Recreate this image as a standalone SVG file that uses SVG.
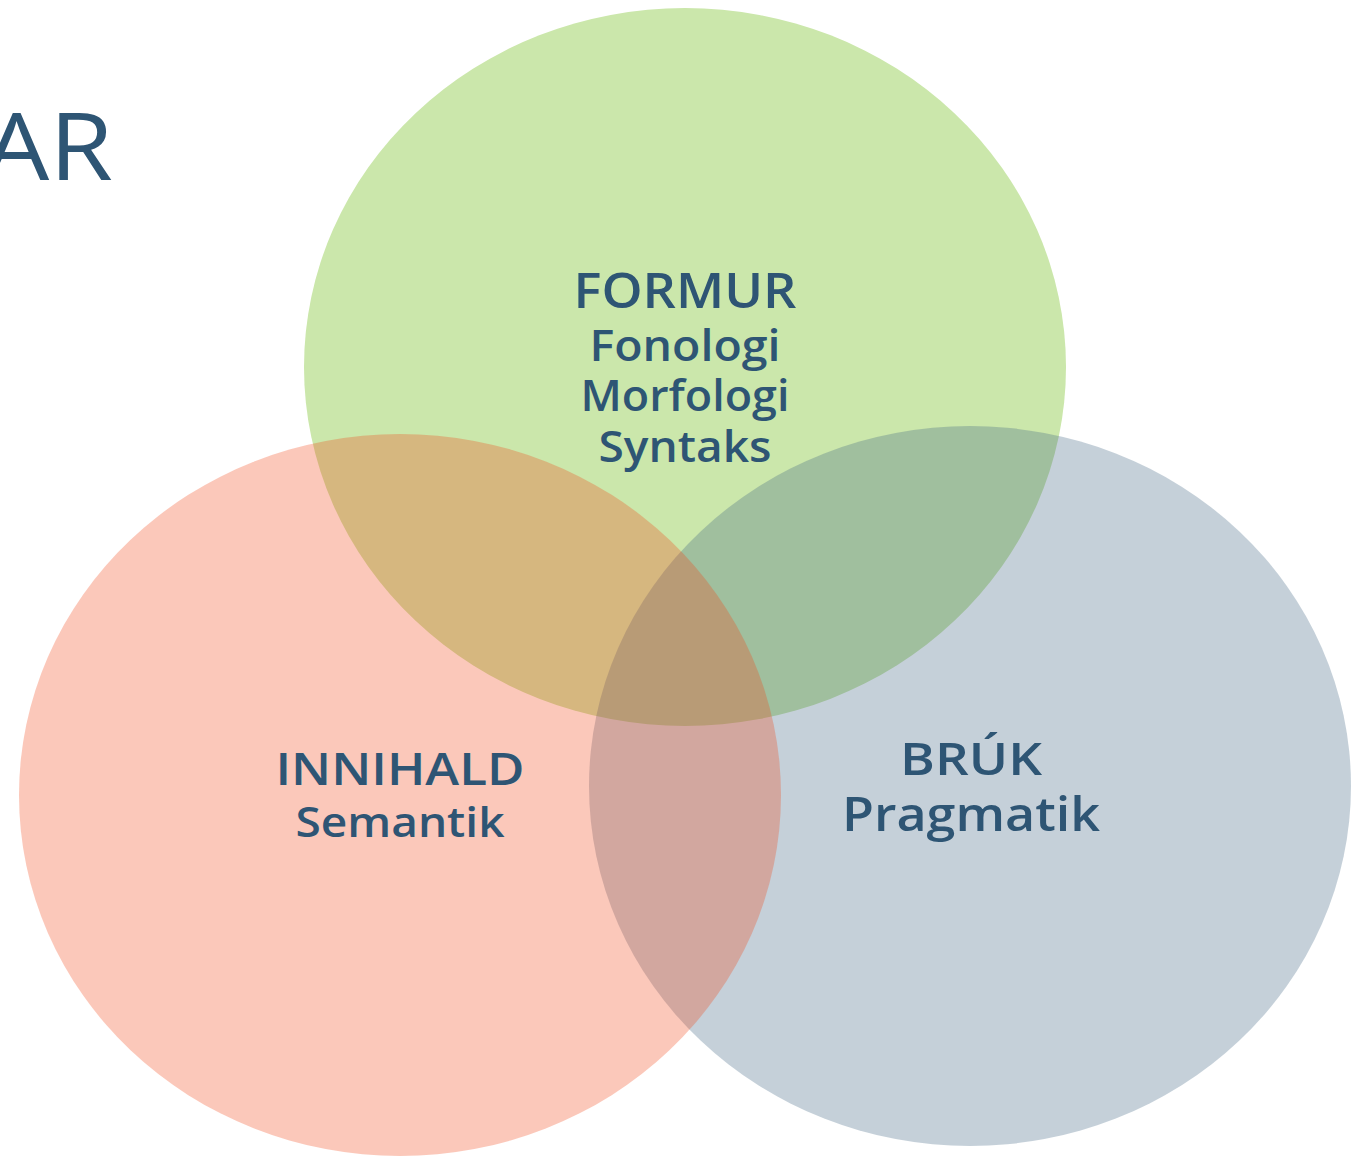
<svg xmlns="http://www.w3.org/2000/svg" width="1352" height="1156" viewBox="0 0 1352 1156">
<style>
.t{font-family:"Open Sans","Noto Sans","Liberation Sans",sans-serif;font-weight:600;fill:#2e5574;text-anchor:middle}
.title{font-family:"Open Sans","Noto Sans","Liberation Sans",sans-serif;font-weight:400;fill:#2e5574}
</style>
<rect width="1352" height="1156" fill="#ffffff"/>
<text class="title" x="-16" y="180" font-size="94" textLength="129" lengthAdjust="spacingAndGlyphs">AR</text>
<g id="formur">
<ellipse cx="685" cy="367" rx="381" ry="359" fill="#cbe7ab"/>
</g>
<g id="bruk">
<ellipse cx="970" cy="786" rx="381" ry="360" fill="#3e6280" fill-opacity="0.3"/>
</g>
<g id="innihald">
<ellipse cx="400" cy="795" rx="381" ry="361" fill="#f24819" fill-opacity="0.3"/>
</g>
<g id="labels">
<text class="t" x="685" y="308" font-size="48" textLength="223" lengthAdjust="spacingAndGlyphs">FORMUR</text>
<text class="t" x="685" y="361" font-size="43" textLength="191" lengthAdjust="spacingAndGlyphs">Fonologi</text>
<text class="t" x="685" y="411" font-size="43" textLength="209" lengthAdjust="spacingAndGlyphs">Morfologi</text>
<text class="t" x="685" y="462" font-size="43" textLength="173" lengthAdjust="spacingAndGlyphs">Syntaks</text>
<text class="t" x="400" y="785" font-size="45" textLength="249" lengthAdjust="spacingAndGlyphs">INNIHALD</text>
<text class="t" x="400" y="837" font-size="41" textLength="209" lengthAdjust="spacingAndGlyphs">Semantik</text>
<text class="t" x="971" y="775" font-size="45" textLength="142" lengthAdjust="spacingAndGlyphs">BRÚK</text>
<text class="t" x="971" y="831" font-size="47" textLength="258" lengthAdjust="spacingAndGlyphs">Pragmatik</text>
</g>
</svg>
